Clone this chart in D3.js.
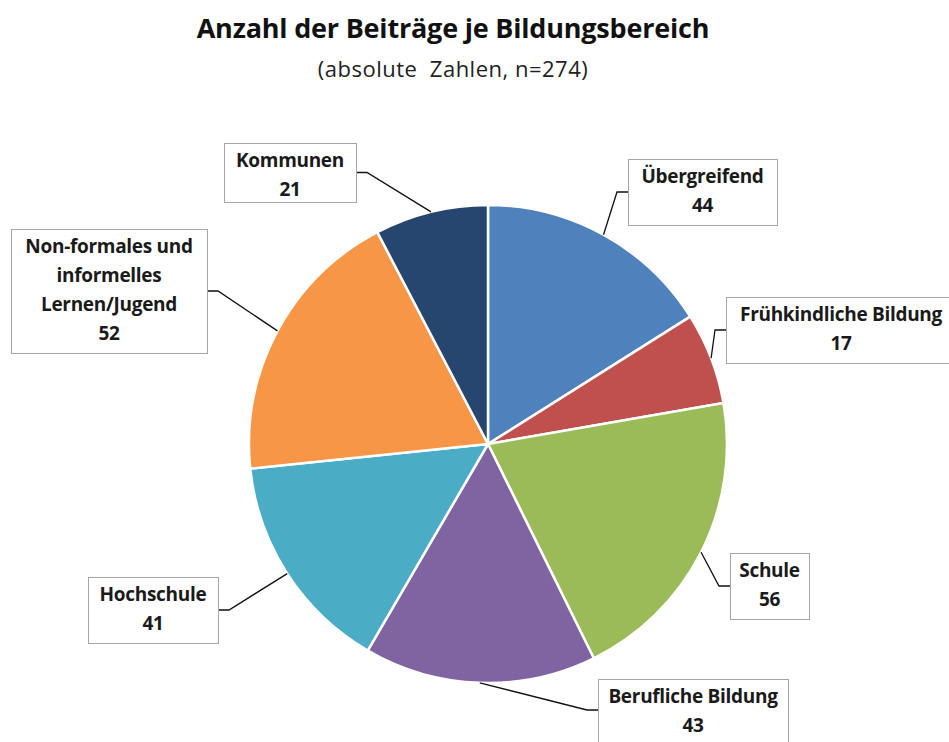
<!DOCTYPE html>
<html>
<head>
<meta charset="utf-8">
<script src="https://cdn.jsdelivr.net/npm/d3@7"></script>
<style>
  html, body { margin: 0; padding: 0; background: #ffffff; }
  svg { display: block; font-family: "Open Sans", Lato, sans-serif; }
  text { white-space: pre; }
</style>
</head>
<body>
<div id="chart"></div>
<script>
const categories = [
  "Übergreifend",
  "Frühkindliche Bildung",
  "Schule",
  "Berufliche Bildung",
  "Hochschule",
  "Non-formales und informelles Lernen/Jugend",
  "Kommunen",
];
const values = [44, 17, 56, 43, 41, 52, 21];
const labelLines = [
  ["Übergreifend"],
  ["Frühkindliche Bildung"],
  ["Schule"],
  ["Berufliche Bildung"],
  ["Hochschule"],
  ["Non-formales und", "informelles", "Lernen/Jugend"],
  ["Kommunen"],
];

const colors = ["#4f81bd", "#c0504d", "#9bbb59", "#8064a2", "#4bacc6", "#f79646", "#264670"];

// label boxes: x, y, w, h and which side the leader attaches to
const boxes = [
  { x: 628, y: 159, w: 149, h: 66, side: "left" },
  { x: 726, y: 297, w: 240, h: 66, side: "left" },
  { x: 730, y: 553, w: 79, h: 66, side: "left" },
  { x: 598, y: 679, w: 190, h: 70, side: "left" },
  { x: 88, y: 577, w: 130, h: 66, side: "right" },
  { x: 11, y: 229, w: 196, h: 124, side: "right" },
  { x: 224, y: 143, w: 132, h: 59, side: "right" },
];

const width = 949;
const height = 742;
const cx = 488;
const cy = 444;
const radius = 239;

const svg = d3.select("#chart")
  .append("svg")
  .attr("width", width)
  .attr("height", height);

svg.append("text")
  .attr("x", 453)
  .attr("y", 38)
  .attr("text-anchor", "middle")
  .attr("font-size", 27)
  .attr("font-weight", "bold")
  .attr("letter-spacing", -0.2)
  .attr("fill", "#111")
  .text("Anzahl der Beiträge je Bildungsbereich");

svg.append("text")
  .attr("x", 453)
  .attr("y", 77)
  .attr("text-anchor", "middle")
  .attr("font-size", 22)
  .attr("letter-spacing", 0.5)
  .attr("fill", "#222")
  .text("(absolute  Zahlen, n=274)");

const data = categories.map((name, i) => ({
  name,
  value: values[i],
  lines: labelLines[i],
  color: colors[i],
  box: boxes[i],
}));

const pie = d3.pie().sort(null).value((d) => d.value);
const arcs = pie(data);
const arc = d3.arc().innerRadius(0).outerRadius(radius);

const g = svg.append("g").attr("transform", `translate(${cx},${cy})`);

g.selectAll("path")
  .data(arcs)
  .join("path")
  .attr("d", arc)
  .attr("fill", (d) => d.data.color)
  .attr("stroke", "#ffffff")
  .attr("stroke-width", 2.5)
  .attr("stroke-linejoin", "round");

// leader lines
const leaders = svg.append("g");
arcs.forEach((a) => {
  const mid = (a.startAngle + a.endAngle) / 2;
  const px = cx + radius * Math.sin(mid);
  const py = cy - radius * Math.cos(mid);
  const b = a.data.box;
  const ay = b.side === "left" && b.h > 68 ? b.y + 31 : b.y + b.h / 2;
  const ax = b.side === "left" ? b.x : b.x + b.w;
  const ex = b.side === "left" ? ax - 11 : ax + 11;
  leaders.append("path")
    .attr("d", `M${px},${py} L${ex},${ay} L${ax},${ay}`)
    .attr("fill", "none")
    .attr("stroke", "#111")
    .attr("stroke-width", 1.3);
});

// label boxes
const labels = svg.append("g")
  .selectAll("g")
  .data(arcs)
  .join("g");

labels.append("rect")
  .attr("x", (d) => d.data.box.x + 0.5)
  .attr("y", (d) => d.data.box.y + 0.5)
  .attr("width", (d) => d.data.box.w)
  .attr("height", (d) => d.data.box.h)
  .attr("fill", "#ffffff")
  .attr("stroke", "#a6a6a6")
  .attr("stroke-width", 1);

labels.each(function (d) {
  const b = d.data.box;
  const lines = d.data.lines.concat([String(d.data.value)]);
  const lineH = 29;
  const textX = b.w > 220 ? b.x + 115 : b.x + b.w / 2;
  const top = b.y + 24;
  const t = d3.select(this).append("text")
    .attr("text-anchor", "middle")
    .attr("font-size", 19)
    .attr("font-weight", "bold")
    .attr("letter-spacing", -0.3)
    .attr("fill", "#1a1a1a");
  lines.forEach((line, i) => {
    t.append("tspan")
      .attr("x", textX)
      .attr("y", top + i * lineH)
      .text(line);
  });
});
</script>
</body>
</html>
